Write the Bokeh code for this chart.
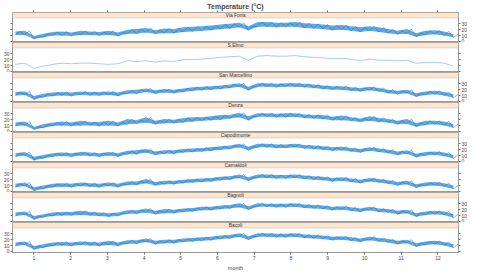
import numpy as np
from bokeh.plotting import figure
from bokeh.layouts import column
from bokeh.models import FixedTicker, LinearAxis, BoxAnnotation, Label, Range1d
from bokeh.embed import file_html
from bokeh.resources import INLINE

# ---------------- data ----------------
months = [1, 2, 3, 4, 5, 6, 7, 8, 9, 10, 11, 12]
month_labels = ["1", "2", "3", "4", "5", "6", "7", "8", "9", "10", "11", "12"]
y_ticks = [0, 10, 20, 30]
y_tick_labels = ["0", "10", "20", "30"]

stations = ["Via Foria", "S.Elmo", "San Marcellino", "Denza",
            "Capodimonte", "Camaldoli", "Bagnoli", "Bacoli"]

# sampling grid in decimal months (start .. end of the record)
t_start, t_end, n_samples = 0.5, 12.42, 48

via_foria_hi = [17,18,9,13,16,17,15,18,17,16,18,15,20,21,23,19,22,21,24,25,26,27,29,30,32,26,33,33,32,32,33,31,30,29,27,28,26,24,26,24,21,18,21,14,18,19,17,12]
via_foria_lo = [11,11,4,7,10,10,9,11,11,10,11,9,13,13,15,13,14,14,16,17,18,19,21,22,24,19,25,25,24,25,25,23,22,21,19,20,18,16,18,16,14,12,13,8,11,12,10,7]

s_elmo = [12,14,5,9,12,14,13,14,14,13,12,13,18,17,18,16,18,17,20,20,21,22,24,25,26,19,26,27,26,26,27,25,24,23,22,22,21,18,21,19,19,18,19,14,15,15,14,9]

san_marcellino_hi = [16,17,9,13,15,16,15,17,16,16,17,15,19,20,22,19,21,20,22,24,25,26,27,29,31,25,31,31,30,31,31,30,29,27,26,26,24,23,25,23,20,18,20,14,17,18,16,12]
san_marcellino_lo = [10,11,3,7,9,10,9,11,10,10,11,9,13,13,16,13,15,14,16,18,19,20,21,23,25,19,25,25,24,25,25,24,23,21,20,20,18,17,19,17,14,12,14,8,11,12,10,6]

denza_hi = [15,17,8,12,15,17,15,18,16,16,18,15,21,19,24,18,21,20,23,24,24,26,28,28,32,26,31,31,30,31,31,29,28,28,25,27,24,22,26,23,21,18,21,14,18,18,17,12]
denza_lo = [9,10,3,6,9,10,9,10,10,9,10,9,12,13,15,12,14,14,15,17,18,19,20,22,24,19,25,25,24,24,25,23,22,21,19,19,18,16,18,16,15,12,13,8,11,12,10,6]

capodimonte_hi = [14,16,8,11,14,15,14,16,15,14,16,14,18,19,21,17,19,19,21,22,23,24,26,27,30,25,30,30,29,29,30,28,27,26,24,25,23,21,24,22,20,17,19,13,16,17,15,11]
capodimonte_lo = [8,10,2,5,8,9,8,10,9,8,10,8,12,12,15,11,13,13,15,16,17,18,20,21,24,19,24,24,23,23,24,22,21,20,18,19,17,15,18,16,14,11,13,7,10,11,9,5]

camaldoli_hi = [13,15,7,10,13,14,13,15,14,13,15,13,17,17,21,16,18,18,20,21,22,23,25,26,29,24,29,29,28,28,29,27,26,25,23,24,22,20,23,21,19,16,18,12,15,16,14,10]
camaldoli_lo = [7,9,1,4,7,8,7,9,8,7,9,7,11,11,14,10,12,12,14,15,16,17,19,20,23,18,23,23,22,22,23,21,20,19,17,18,16,14,17,15,13,10,12,6,9,10,8,4]

bagnoli_hi = [15,17,9,12,15,16,16,18,16,15,14,15,19,19,22,18,21,20,22,23,25,25,27,28,31,26,31,30,30,30,31,29,28,27,25,26,24,22,25,22,21,18,20,14,17,18,17,12]
bagnoli_lo = [9,11,3,7,9,10,10,11,10,9,8,9,13,13,15,12,14,14,16,17,19,19,21,22,24,20,25,25,24,24,25,23,22,21,19,20,18,16,19,16,15,12,14,8,11,12,11,6]

bacoli_hi = [15,17,9,12,15,16,15,17,16,15,18,15,19,19,22,18,20,20,22,23,24,25,27,28,31,26,31,31,30,30,31,29,28,27,25,26,24,22,25,23,21,18,20,14,17,18,16,12]
bacoli_lo = [9,11,3,6,9,10,9,11,10,9,11,9,13,13,16,12,14,14,16,17,18,19,21,22,25,20,25,25,24,24,25,23,22,21,19,20,18,16,19,17,15,12,14,8,11,12,10,6]

series = {
    "Via Foria": (via_foria_lo, via_foria_hi),
    "S.Elmo": (s_elmo, None),
    "San Marcellino": (san_marcellino_lo, san_marcellino_hi),
    "Denza": (denza_lo, denza_hi),
    "Capodimonte": (capodimonte_lo, capodimonte_hi),
    "Camaldoli": (camaldoli_lo, camaldoli_hi),
    "Bagnoli": (bagnoli_lo, bagnoli_hi),
    "Bacoli": (bacoli_lo, bacoli_hi),
}

# ---------------- layout / style ----------------
FONT = "Liberation Sans"
LINE = "#0072d6"
BAND = "#2f8bd4"
STRIP = "#ffe5cc"
EDGE = "#707070"
L_BORDER, R_BORDER = 9, 9
TOTAL_W = 464
FW = TOTAL_W - L_BORDER - R_BORDER
FH = 30
STRIP_PX = 5.5
Y0, Y1 = -2, 40
YTOP = Y1 + (Y1 - Y0) * STRIP_PX / (FH - STRIP_PX)
X0, X1 = 0.42, 12.56

t = np.linspace(t_start, t_end, n_samples)
dt = t[1] - t[0]

figs = []
n = len(stations)
for i, name in enumerate(stations):
    top = i == 0
    bottom = i == n - 1
    p = figure(frame_width=FW, frame_height=FH,
               x_range=Range1d(X0, X1), y_range=Range1d(Y0, YTOP),
               x_axis_location=("above" if top else ("below" if bottom else None)),
               y_axis_location=None,
               toolbar_location=None, output_backend="svg",
               min_border=0, min_border_left=L_BORDER, min_border_right=R_BORDER)
    p.outline_line_color = EDGE
    p.outline_line_width = 0.7
    p.background_fill_color = "white"
    p.border_fill_color = "white"
    p.xgrid.visible = False
    p.ygrid.visible = False

    if top:
        p.title.text = "Temperature (°C)"
        p.title.align = "center"
        p.title.text_font = FONT
        p.title.text_font_size = "7px"
        p.title.text_font_style = "bold"
        p.title.standoff = 1
        p.title.offset = 0

    for ax in p.xaxis:
        ax.ticker = FixedTicker(ticks=months)
        ax.axis_line_color = None
        ax.major_tick_line_color = EDGE
        ax.major_tick_out = 2
        ax.major_tick_in = 0
        ax.minor_tick_line_color = None
        ax.major_label_standoff = 1
        ax.major_label_text_font = FONT
        ax.major_label_text_font_size = "5px"
        if bottom:
            ax.major_label_overrides = {m: lab for m, lab in zip(months, month_labels)}
            ax.axis_label = "month"
            ax.axis_label_text_font = FONT
            ax.axis_label_text_font_size = "5.5px"
            ax.axis_label_text_font_style = "normal"
            ax.axis_label_standoff = 2
        else:
            ax.major_label_text_color = None
            ax.major_label_standoff = 0

    for side in ("left", "right"):
        show = (side == "right") == (i % 2 == 0)
        ax = LinearAxis(ticker=FixedTicker(ticks=y_ticks))
        ax.major_label_overrides = {v: s for v, s in zip(y_ticks, y_tick_labels)}
        ax.axis_line_color = None
        ax.major_tick_line_color = EDGE
        ax.major_tick_out = 2
        ax.major_tick_in = 0
        ax.minor_tick_line_color = None
        ax.major_label_standoff = 1
        ax.major_label_text_font = FONT
        ax.major_label_text_font_size = "5px"
        ax.major_label_orientation = "horizontal"
        if not show:
            ax.major_label_text_color = None
        p.add_layout(ax, side)

    # strip
    p.add_layout(BoxAnnotation(bottom=Y1, top=YTOP, left=X0, right=X1,
                               fill_color=STRIP, fill_alpha=1.0,
                               line_color=EDGE, line_width=0.7, level="overlay"))
    p.add_layout(Label(x=(X0 + X1) / 2, y=(Y1 + YTOP) / 2, text=name,
                       text_align="center", text_baseline="middle",
                       text_font=FONT, text_font_size="5px", text_color="#333333",
                       level="overlay"))

    lo, hi = series[name]
    if hi is None:
        p.line(t, lo, line_color=LINE, line_width=0.6, line_alpha=0.6)
    else:
        xs = np.empty(2 * n_samples)
        ys = np.empty(2 * n_samples)
        xs[0::2] = t
        xs[1::2] = t + dt / 2
        ys[0::2] = lo
        ys[1::2] = hi
        p.varea(x=t, y1=lo, y2=hi, fill_color=BAND, fill_alpha=0.75)
        p.line(xs, ys, line_color=LINE, line_width=0.6, line_alpha=0.85)
    figs.append(p)

layout = column(*figs, spacing=0)
open("out.html", "w").write(file_html(layout, INLINE))
